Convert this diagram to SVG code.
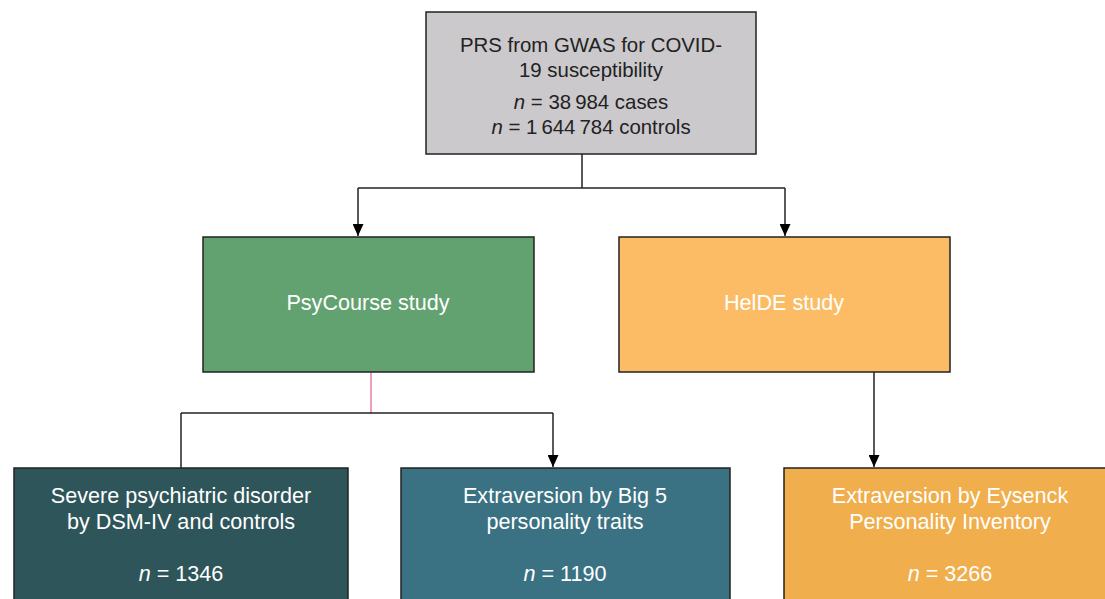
<svg xmlns="http://www.w3.org/2000/svg" width="1105" height="599" viewBox="0 0 1105 599">
<style>
.box{stroke:#222;stroke-width:1.5}
.t{font-family:"Liberation Sans","Noto Sans",Arial,sans-serif;font-size:20.4px;text-anchor:middle}
.w{font-size:21.6px}
.dk{fill:#222}
.wt{fill:#fff}
.c{fill:none;stroke:#222;stroke-width:1.5}
</style>
<defs>
<marker id="ah" viewBox="0 0 12 11" refX="12" refY="5.5" markerWidth="12" markerHeight="11" markerUnits="userSpaceOnUse" orient="auto">
<path d="M0,0 L12,5.5 L0,11 z" fill="#000"/>
</marker>
</defs>
<rect width="1105" height="599" fill="#fff"/>
<g id="connectors">
<path class="c" d="M582,154 V188"/>
<path class="c" d="M358,188 H785"/>
<path class="c" d="M358,188 V236" marker-end="url(#ah)"/>
<path class="c" d="M785,188 V236" marker-end="url(#ah)"/>
<path d="M371,372 V413" fill="none" stroke="#e0417a" stroke-width="1"/>
<path class="c" d="M181,413 H553"/>
<path class="c" d="M181,413 V468"/>
<path class="c" d="M553,413 V467" marker-end="url(#ah)"/>
<path class="c" d="M874,372 V467" marker-end="url(#ah)"/>
</g>
<g id="prs">
<rect class="box" x="426" y="12" width="330" height="142" fill="#cbc9cc"/>
<text class="t dk" x="591" y="52">PRS from GWAS for COVID-</text>
<text class="t dk" x="591" y="77">19 susceptibility</text>
<text class="t dk" x="591" y="109"><tspan font-style="italic">n</tspan> = 38&#8201;984 cases</text>
<text class="t dk" x="591" y="134"><tspan font-style="italic">n</tspan> = 1&#8201;644&#8201;784 controls</text>
</g>
<g id="psycourse">
<rect class="box" x="203" y="237" width="331" height="135" fill="#62a270"/>
<text class="t w wt" x="368" y="310">PsyCourse study</text>
</g>
<g id="helde">
<rect class="box" x="619" y="237" width="331" height="135" fill="#fbbc65"/>
<text class="t w wt" x="784" y="310">HelDE study</text>
</g>
<g id="severe">
<rect class="box" x="14" y="468" width="334" height="140" fill="#2e555a"/>
<text class="t w wt" x="181" y="503">Severe psychiatric disorder</text>
<text class="t w wt" x="181" y="529">by DSM-IV and controls</text>
<text class="t w wt" x="181" y="581"><tspan font-style="italic">n</tspan> = 1346</text>
</g>
<g id="big5">
<rect class="box" x="401" y="468" width="329" height="140" fill="#3a7283"/>
<text class="t w wt" x="565" y="503">Extraversion by Big 5</text>
<text class="t w wt" x="565" y="529">personality traits</text>
<text class="t w wt" x="565" y="581"><tspan font-style="italic">n</tspan> = 1190</text>
</g>
<g id="eysenck">
<rect class="box" x="784" y="468" width="340" height="140" fill="#f0ae4c"/>
<text class="t w wt" x="950" y="503">Extraversion by Eysenck</text>
<text class="t w wt" x="950" y="529">Personality Inventory</text>
<text class="t w wt" x="950" y="581"><tspan font-style="italic">n</tspan> = 3266</text>
</g>
</svg>
